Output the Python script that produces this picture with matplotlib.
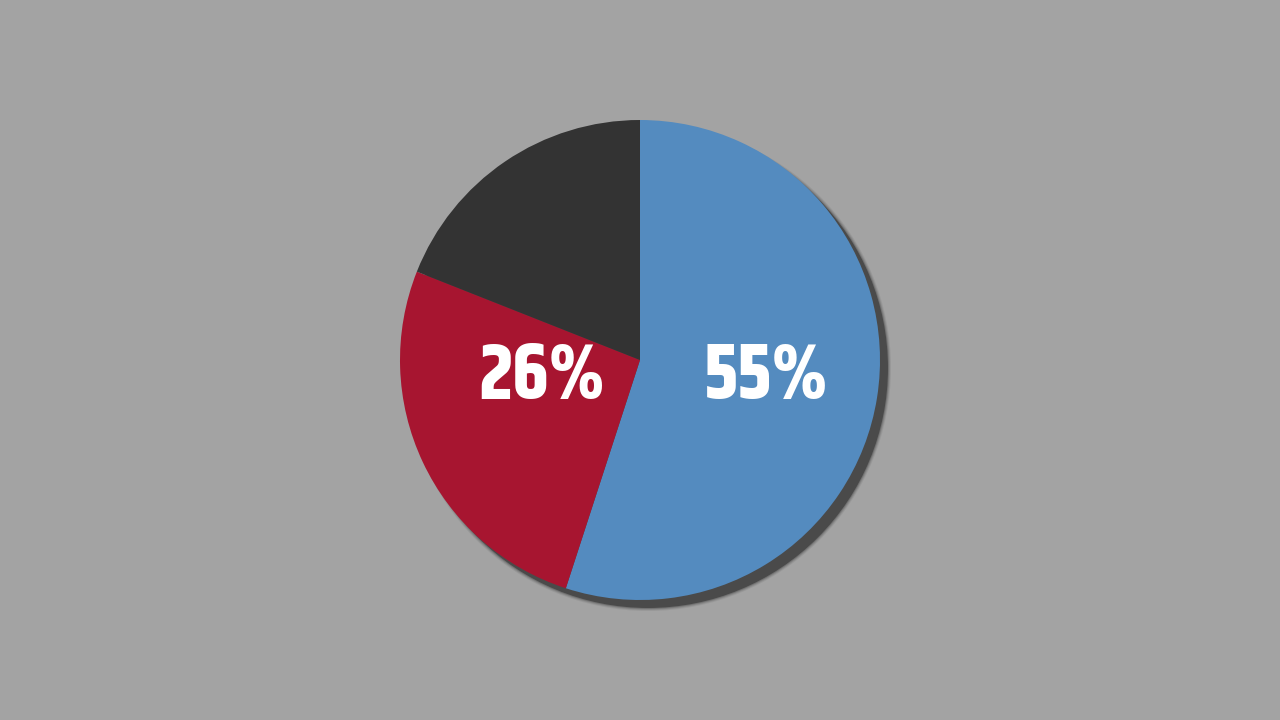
import matplotlib
matplotlib.use("Agg")
import matplotlib.pyplot as plt
from matplotlib.patches import Circle

# slice data, clockwise from 12 o'clock
shares = [55, 26, 19]
colors = ["#548bbf", "#a71530", "#333333"]
labels = ["55%", "26%", ""]

BG = "#a3a3a3"
RADIUS_PX = 240

fig = plt.figure(figsize=(12.8, 7.2), dpi=100, facecolor=BG)
ax = fig.add_axes([0, 0, 1, 1])
ax.set_facecolor(BG)

# soft drop shadow to the lower right
off = 8 / RADIUS_PX
for grow, alpha in [(6, 0.12), (4, 0.2), (2, 0.35), (0, 1.0)]:
    ax.add_patch(Circle((off, -off), 1 + grow / RADIUS_PX * 0.5,
                        color="#4a4a4a", alpha=alpha, lw=0, zorder=1))

wedges, _ = ax.pie(shares, colors=colors, startangle=90, counterclock=False,
                   radius=1, wedgeprops=dict(linewidth=0))
for w in wedges:
    w.set_zorder(2)

# pie() resets the limits, so set them afterwards
ax.set_xlim(-640 / RADIUS_PX, 640 / RADIUS_PX)
ax.set_ylim(-360 / RADIUS_PX, 360 / RADIUS_PX)
ax.set_aspect("equal")
ax.axis("off")

font = ["Khand", "DejaVu Sans"]
label_pos = [(0.525, -0.065), (-0.41, -0.065)]
for (x, y), txt in zip(label_pos, labels[:2]):
    ax.text(x, y, txt, color="white", fontsize=56, fontweight="bold",
            family=font, ha="center", va="center", zorder=3)

fig.savefig("out.png", dpi=100, facecolor=BG)
